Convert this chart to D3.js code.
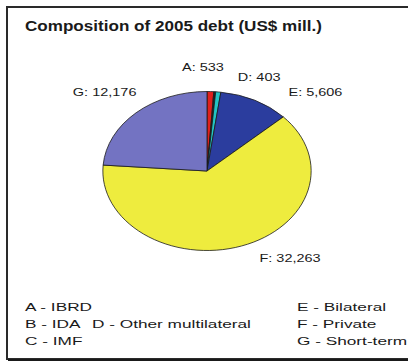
<!DOCTYPE html>
<html>
<head>
<meta charset="utf-8">
<script src="https://cdn.jsdelivr.net/npm/d3@7"></script>
<style>
  html, body { margin: 0; padding: 0; background: #fff; }
  svg { display: block; }
  text { font-family: "Liberation Sans", Arial, sans-serif; fill: #1a1a1a; }
</style>
</head>
<body>
<svg id="chart" width="408" height="362"></svg>
<script>
// ---- data ----
const title = "Composition of 2005 debt (US$ mill.)";
const categories = ["A", "B", "C", "D", "E", "F", "G"];
const names = ["IBRD", "IDA", "IMF", "Other multilateral", "Bilateral", "Private", "Short-term"];
const values = [533, 90, 60, 403, 5606, 32263, 12176];
const valueLabels = ["533", null, null, "403", "5,606", "32,263", "12,176"];
const colors = ["#e0201c", "#1e3a2e", "#3a3a3a", "#22c4c4", "#2b3d9e", "#eeec3e", "#7373c2"];

// ---- layout ----
const W = 408, H = 362;
const cx = 207, cy = 171, R = 79.5, sx = 1.31;
const labelR = 107;
const labelNudge = { A: [-8.6, 3], D: [37, 12.4], E: [44, 16.5], F: [36.7, -13], G: [-7, 0] };
const legendCols = [25, 92, 297];
const legendRows = [311, 328, 345];
const legendCol = [0, 0, 0, 1, 2, 2, 2];
const legendRow = [0, 1, 2, 1, 0, 1, 2];

const svg = d3.select("#chart");
svg.append("rect").attr("width", W).attr("height", H).attr("fill", "#fff");

// frame
svg.append("rect")
  .attr("x", 7).attr("y", 7).attr("width", 402).attr("height", 352)
  .attr("fill", "none").attr("stroke", "#2a2a2a").attr("stroke-width", 2);
svg.append("line").attr("x1", 8).attr("x2", 408).attr("y1", 360).attr("y2", 360)
  .attr("stroke", "#1a1a1a").attr("stroke-width", 2);

function stretchedText(x, y, str, size, stretch, weight) {
  return svg.append("text")
    .attr("transform", `translate(${x},${y}) scale(${stretch},1)`)
    .attr("font-size", size)
    .attr("font-weight", weight || "normal")
    .text(str);
}

// title
stretchedText(25, 31, title, 14, 1.22, "bold");

// pie
const data = categories.map((c, i) => ({ cat: c, name: names[i], value: values[i], label: valueLabels[i], color: colors[i] }));
const pie = d3.pie().value(d => d.value).sort(null).startAngle(0).endAngle(2 * Math.PI);
const arcs = pie(data);
const arc = d3.arc().innerRadius(0).outerRadius(R);
const labelArc = d3.arc().innerRadius(labelR).outerRadius(labelR);

const g = svg.append("g").attr("transform", `translate(${cx},${cy}) scale(${sx},1)`);
g.selectAll("path").data(arcs).join("path")
  .attr("d", arc)
  .attr("fill", d => d.data.color)
  .attr("stroke", "#1a1a1a")
  .attr("stroke-width", 0.8)
  .attr("vector-effect", "non-scaling-stroke");

// slice labels
arcs.filter(d => d.data.label).forEach(d => {
  const [px, py] = labelArc.centroid(d);
  const n = labelNudge[d.data.cat] || [0, 0];
  const x = cx + px * sx + n[0];
  const y = cy + py + n[1];
  svg.append("text")
    .attr("transform", `translate(${x},${y}) scale(1.45,1)`)
    .attr("text-anchor", "middle")
    .attr("dy", "0.35em")
    .attr("font-size", 10)
    .text(`${d.data.cat}: ${d.data.label}`);
});

// legend
data.forEach((d, i) => {
  stretchedText(legendCols[legendCol[i]], legendRows[legendRow[i]], `${d.cat} - ${d.name}`, 11.5, 1.5);
});
</script>
</body>
</html>
